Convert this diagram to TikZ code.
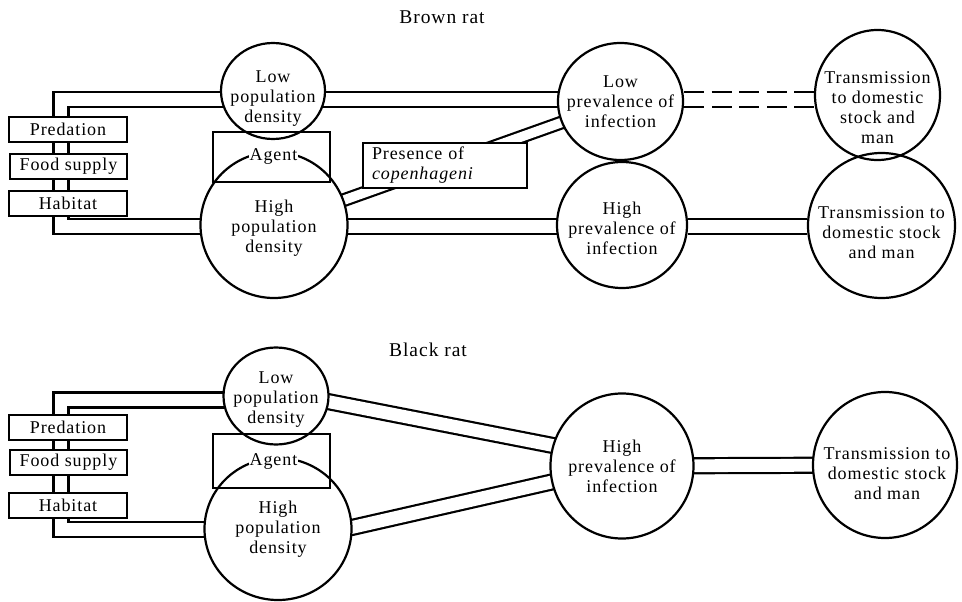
\documentclass[tikz,border=0pt]{standalone}
\usepackage{fontspec}
\setmainfont{Liberation Serif}[LetterSpace=5]
\usetikzlibrary{shapes.geometric,calc}
\pgfdeclarelayer{back}
\pgfdeclarelayer{bg}
\pgfsetlayers{back,bg,main}
\tikzset{
  ell/.style={ellipse, draw, line width=2.2pt, fill=white, inner sep=0pt},
  ellnf/.style={ellipse, draw, line width=2.2pt, inner sep=0pt},
  txt/.style={align=center, font=\fontsize{18}{20}\selectfont, inner sep=0pt},
  ttl/.style={font=\fontsize{19.5}{22}\selectfont, inner sep=0pt},
  sbox/.style={draw, line width=2.2pt, fill=white, inner sep=0pt, font=\fontsize{18}{20}\selectfont},
  agbox/.style={draw, line width=2.2pt, inner sep=0pt},
  dbl/.style={line width=2.2pt, double=white, double distance=12.8pt},
}
\begin{document}
\begin{tikzpicture}[x=1pt,y=-1pt]
\useasboundingbox (0,0) rectangle (962,602);
\begin{pgfonlayer}{back}
\fill[white] (0,0) rectangle (962,602);
\end{pgfonlayer}

% ---------- Brown rat ----------
\node[ttl] (titleT) at (442,17) {Brown rat};
\node[ell, minimum width=104pt, minimum height=96pt,
  label={[txt,yshift=-8pt]center:{Low\\population\\density}}] (lowpopT) at (273,91) {};
\node[ell, minimum width=147pt, minimum height=146pt,
  label={[txt,yshift=-3pt]center:{High\\population\\density}}] (highpopT) at (274,225) {};
\node[ell, minimum width=125pt, minimum height=117pt,
  label={[txt,yshift=0pt]center:{Low\\prevalence of\\infection}}] (lowprevT) at (620.5,101.5) {};
\node[ell, minimum width=130pt, minimum height=126pt,
  label={[txt,yshift=-3pt]center:{High\\prevalence of\\infection}}] (highprevT) at (622,225) {};
\node[ellnf, minimum width=125pt, minimum height=130pt,
  label={[txt,yshift=-13pt]center:{Transmission\\to domestic\\stock and\\man}}] (transT) at (877.5,95) {};
\node[ellnf, minimum width=147pt, minimum height=145pt,
  label={[txt,yshift=-7pt]center:{Transmission to\\domestic stock\\and man}}] (transT2) at (881.5,225.5) {};
\node[agbox, minimum width=117pt, minimum height=50pt,
  label={[txt,fill=white,inner sep=1pt,xshift=2pt]center:Agent}] (agentT) at (271.5,157) {};
\node[sbox, minimum width=118pt, minimum height=25pt] (predT) at (68,129.5) {Predation};
\node[sbox, minimum width=117pt, minimum height=25pt] (foodT) at (68.5,166.5) {Food supply};
\node[sbox, minimum width=118pt, minimum height=25pt] (habT) at (68,203.5) {Habitat};
\node[sbox, align=left, text width=146pt, inner xsep=9pt, inner ysep=0pt, minimum height=45pt]
  (presT) at (445,165.5) {Presence of\\\textit{copenhageni}};

% ---------- Black rat ----------
\node[ttl] (titleB) at (428,350) {Black rat};
\node[ell, minimum width=105pt, minimum height=97pt,
  label={[txt,yshift=-4pt]center:{Low\\population\\density}}] (lowpopB) at (276,396) {};
\node[ell, minimum width=147pt, minimum height=142pt,
  label={[txt]center:{High\\population\\density}}] (highpopB) at (278,529) {};
\node[ell, minimum width=143pt, minimum height=145pt,
  label={[txt]center:{High\\prevalence of\\infection}}] (highprevB) at (622,466) {};
\node[ell, minimum width=144pt, minimum height=146pt,
  label={[txt,yshift=-9pt,xshift=2pt]center:{Transmission to\\domestic stock\\and man}}] (transB) at (885,465) {};
\node[agbox, minimum width=117pt, minimum height=54pt,
  label={[txt,fill=white,inner sep=1pt,xshift=2pt]center:Agent}] (agentB) at (271.5,461) {};
\node[sbox, minimum width=118pt, minimum height=25pt] (predB) at (68,427.5) {Predation};
\node[sbox, minimum width=117pt, minimum height=25pt] (foodB) at (68.5,462.5) {Food supply};
\node[sbox, minimum width=118pt, minimum height=25pt] (habB) at (68,505.5) {Habitat};

% ---------- connectors ----------
\coordinate (bT1) at (61,226.5);
\coordinate (bT2) at (61,99.5);
\coordinate (bB1) at (61,529.5);
\coordinate (bB2) at (61,400);
\coordinate (kB1) at (320,400);
\coordinate (kB2) at (343,529.5);
\coordinate (tB1) at ($(highprevB.center)+(0,-7)$);
\begin{pgfonlayer}{bg}
\draw[dbl] (highpopT.center|-bT1) -- (bT1) -- (bT2) -- (lowpopT.center|-bT2);
\draw[dbl] (lowpopT.center|-bT2) -- (lowprevT.center|-bT2);
\draw[dbl, dash pattern=on 20pt off 7.5pt] (lowprevT.east|-bT2) -- (transT.west|-bT2);
\draw[dbl] (highpopT.center|-bT1) -- (highprevT.center|-bT1);
\draw[dbl] (highprevT.east|-bT1) -- (transT2.west|-bT1);
\draw[dbl, double distance=9.5pt] (highpopT.center) -- (lowprevT.center);

\draw[dbl] (kB2) -- (bB1) -- (bB2) -- (kB1);
\draw[dbl] (kB1) -- (tB1);
\draw[dbl] (kB2) -- (highprevB.center);
\draw[dbl] (highprevB.center) -- (transB.center);
\end{pgfonlayer}
\end{tikzpicture}
\end{document}
